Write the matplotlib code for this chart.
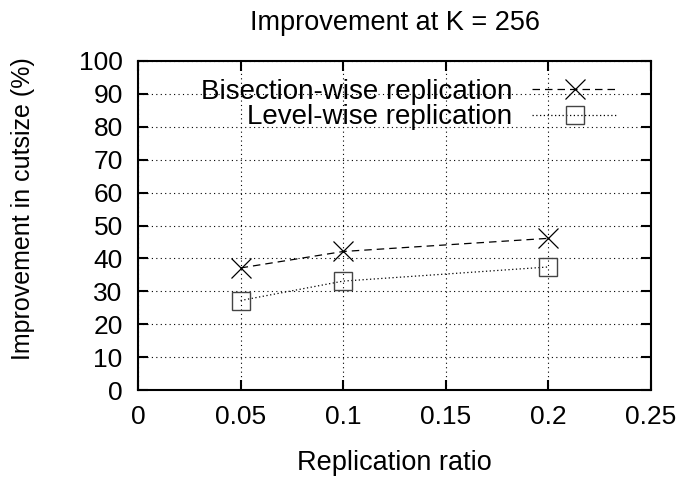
#!/usr/bin/env python3
"""Improvement in cutsize vs replication ratio at K = 256."""

import matplotlib
matplotlib.use("Agg")
import matplotlib.pyplot as plt

ratios = [0.05, 0.1, 0.2]
bisection = [37.1, 42.1, 46.1]
levelwise = [27.2, 33.1, 37.4]

plt.rcParams["font.family"] = ["Liberation Sans", "DejaVu Sans"]
plt.rcParams["font.size"] = 19

W, H = 685, 478
fig = plt.figure(figsize=(W / 100, H / 100), dpi=100)
ax = fig.add_axes([138 / W, 1 - 390 / H, (651 - 138) / W, (390 - 61) / H])

ax.plot(ratios, bisection, color="black", linestyle=(0, (6, 4)), linewidth=0.9,
        marker="x", markersize=14.5, markeredgewidth=0.9, label="Bisection-wise replication")
ax.plot(ratios, levelwise, color="black", linestyle=(0, (1, 2)), linewidth=0.9,
        marker="s", markersize=13.5, markerfacecolor="none", markeredgewidth=1.0,
        markeredgecolor="#444444", label="Level-wise replication")

ax.set_xlim(0, 0.25)
ax.set_ylim(0, 100)
ax.set_xticks([0, 0.05, 0.1, 0.15, 0.2, 0.25])
ax.set_xticklabels(["0", "0.05", "0.1", "0.15", "0.2", "0.25"])
ax.set_yticks(range(0, 101, 10))
ax.tick_params(direction="in", top=True, right=True, length=7, width=1.5, pad=11)
ax.grid(True, color="black", linestyle=(0, (1, 3)), linewidth=0.8)
for s in ax.spines.values():
    s.set_linewidth(1.5)

ax.set_xlabel("Replication ratio", fontsize=19.5, labelpad=15)
ax.set_ylabel("Improvement in cutsize (%)", fontsize=18)
ax.yaxis.set_label_coords(-0.2, 0.55)
ax.set_title("Improvement at K = 256", fontsize=19.5, pad=22)

ax.legend(loc="upper right", bbox_to_anchor=((618 - 138) / 513, 1 - 18 / 329),
          frameon=False, markerfirst=False, fontsize=20, handlelength=3.1,
          borderaxespad=0, borderpad=0, labelspacing=-0.02, handletextpad=0.72)

fig.savefig("out.png", dpi=100)
